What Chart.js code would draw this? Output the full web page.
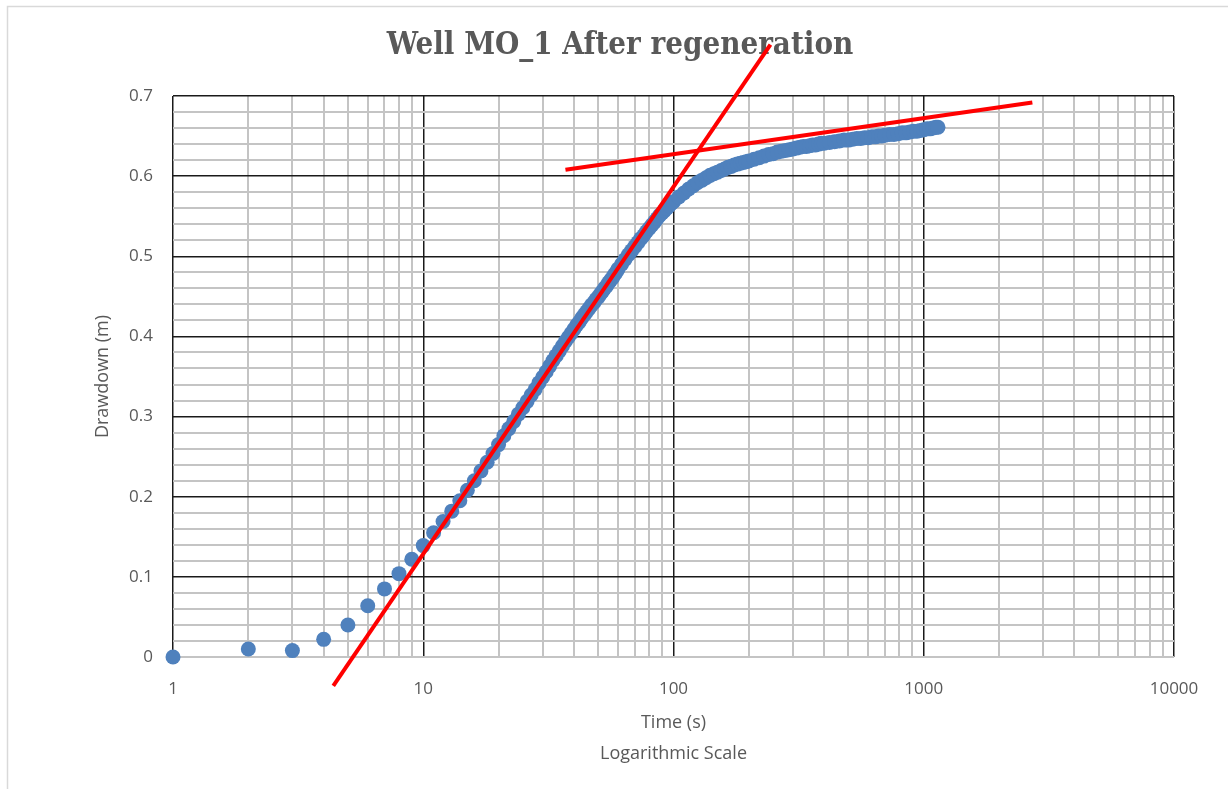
<!DOCTYPE html>
<html>
<head>
<meta charset="utf-8">
<script src="https://cdn.jsdelivr.net/npm/chart.js@4/dist/chart.umd.min.js"></script>
<style>
  html, body { margin: 0; padding: 0; background: #fff; }
  #wrap { width: 1228px; height: 789px; }
</style>
</head>
<body>
<div id="wrap"><canvas id="chart" width="1228" height="789"></canvas></div>
<script>
// drawdown readings (time in seconds, drawdown in metres)
const timeS = [
  1, 2, 3, 4, 5, 6, 7, 8, 9, 10, 11, 12, 13, 14, 15, 16, 17, 18, 19, 20,
  21, 22, 23, 24, 25, 26, 27, 28, 29, 30, 31, 32, 33, 34, 35, 36, 37, 38, 39, 40,
  41, 42, 43, 44, 45, 46, 47, 48, 49, 50, 51, 52, 53, 54, 55, 56, 57, 58, 59, 60,
  62, 64, 66, 68, 70, 72, 74, 76, 78, 80, 82, 84, 86, 88, 90, 92, 94, 96, 98, 100,
  105, 110, 115, 120, 125, 130, 135, 140, 145, 150, 155, 160, 165, 170, 175, 180, 185, 190, 195, 200,
  210, 220, 230, 240, 250, 260, 270, 280, 290, 300, 310, 320, 330, 340, 350, 360, 370, 380, 390, 400,
  420, 440, 460, 480, 500, 520, 540, 560, 580, 600, 620, 640, 660, 680, 700,
  730, 760, 790, 820, 850, 880, 910, 940, 970, 1000, 1030, 1060, 1090, 1120, 1140
];
const drawdownM = [
  0, 0.010, 0.008, 0.022, 0.040, 0.064, 0.085, 0.104, 0.122, 0.139, 0.155, 0.169, 0.182, 0.195, 0.208, 0.220, 0.232, 0.243, 0.254, 0.265,
  0.276, 0.285, 0.294, 0.303, 0.311, 0.319, 0.327, 0.334, 0.342, 0.349, 0.356, 0.363, 0.370, 0.376, 0.382, 0.388, 0.394, 0.399, 0.404, 0.409,
  0.414, 0.418, 0.423, 0.427, 0.431, 0.435, 0.439, 0.442, 0.446, 0.449, 0.453, 0.456, 0.460, 0.463, 0.467, 0.470, 0.473, 0.477, 0.480, 0.484,
  0.490, 0.496, 0.502, 0.507, 0.512, 0.517, 0.522, 0.526, 0.531, 0.535, 0.539, 0.543, 0.547, 0.551, 0.554, 0.557, 0.560, 0.563, 0.566, 0.568,
  0.574, 0.579, 0.584, 0.588, 0.592, 0.595, 0.598, 0.601, 0.603, 0.605, 0.607, 0.609, 0.611, 0.612, 0.614, 0.615, 0.616, 0.617, 0.618, 0.619,
  0.621, 0.623, 0.625, 0.627, 0.628, 0.630, 0.631, 0.632, 0.633, 0.634, 0.635, 0.636, 0.637, 0.637, 0.638, 0.639, 0.639, 0.640, 0.641, 0.641,
  0.642, 0.643, 0.644, 0.645, 0.645, 0.646, 0.647, 0.647, 0.648, 0.648, 0.649, 0.649, 0.650, 0.650, 0.651,
  0.652, 0.652, 0.653, 0.654, 0.654, 0.655, 0.656, 0.656, 0.657, 0.658, 0.659, 0.659, 0.660, 0.661, 0.661
];

// hand-drawn straight-line fits (endpoints)
const earlyFitT = [4.37, 244];
const earlyFitS = [-0.036, 0.764];
const lateFitT = [37, 2716];
const lateFitS = [0.608, 0.692];

// axis ticks
const decadeTicks = [1, 10, 100, 1000, 10000];
const minorSteps = [2, 3, 4, 5, 6, 7, 8, 9];
const yMajorTicks = [0, 0.1, 0.2, 0.3, 0.4, 0.5, 0.6, 0.7];

const pts = (xs, ys) => xs.map((x, i) => ({ x: x, y: ys[i] }));

const grey = '#595959';
const tickFont = { family: "'Open Sans', 'Noto Sans', sans-serif", size: 17 };

const logTicks = [];
decadeTicks.forEach(d => {
  logTicks.push(d);
  if (d < 10000) minorSteps.forEach(m => logTicks.push(d * m));
});
const yTicks = [];
for (let i = 0; i <= 35; i++) yTicks.push(Math.round(i * 2) / 100);

const isYMajor = v => yMajorTicks.some(m => Math.abs(m - v) < 1e-6);

const frame = {
  id: 'frame',
  beforeDraw(chart) {
    const c = chart.ctx;
    c.save();
    c.fillStyle = '#fff';
    c.fillRect(0, 0, chart.width, chart.height);
    c.strokeStyle = '#d9d9d9';
    c.lineWidth = 1.5;
    c.beginPath();
    c.moveTo(7.5, chart.height + 2);
    c.lineTo(7.5, 6.5);
    c.lineTo(chart.width + 2, 6.5);
    c.stroke();
    c.restore();
  }
};

new Chart(document.getElementById('chart'), {
  type: 'scatter',
  data: {
    datasets: [
      {
        label: 'early fit',
        data: pts(earlyFitT, earlyFitS),
        showLine: true,
        borderColor: '#ff0000',
        borderWidth: 4,
        pointRadius: 0,
        clip: false,
        order: 0
      },
      {
        label: 'late fit',
        data: pts(lateFitT, lateFitS),
        showLine: true,
        borderColor: '#ff0000',
        borderWidth: 4,
        pointRadius: 0,
        clip: false,
        order: 1
      },
      {
        label: 'Drawdown',
        data: pts(timeS, drawdownM),
        backgroundColor: '#4f81bd',
        borderColor: '#4f81bd',
        pointRadius: 7.5,
        pointBorderWidth: 0,
        clip: false,
        order: 2
      }
    ]
  },
  options: {
    responsive: false,
    animation: false,
    layout: { padding: { left: 66, right: 54, top: 0, bottom: 0 } },
    plugins: {
      legend: { display: false },
      tooltip: { enabled: false },
      title: {
        display: true,
        text: 'Well MO_1 After regeneration',
        color: grey,
        font: { family: "'DejaVu Serif Condensed', 'DejaVu Serif', serif", size: 31, weight: 'bold', lineHeight: 1.2 },
        padding: { top: 27, bottom: 31.8 }
      }
    },
    scales: {
      x: {
        type: 'logarithmic',
        min: 1,
        max: 10000,
        afterBuildTicks: s => { s.ticks = logTicks.map(v => ({ value: v })); },
        afterFit: s => { s.height = 132; },
        border: { display: false },
        grid: {
          drawTicks: false,
          color: ctx => decadeTicks.includes(ctx.tick.value) ? '#1a1a1a' : '#c4c4c4',
          lineWidth: ctx => decadeTicks.includes(ctx.tick.value) ? 1.5 : 2
        },
        ticks: {
          autoSkip: false,
          maxRotation: 0,
          padding: 22,
          color: grey,
          font: tickFont,
          callback: v => decadeTicks.includes(v) ? String(v) : ''
        },
        title: {
          display: true,
          text: ['Time (s)', 'Logarithmic Scale'],
          color: grey,
          font: { family: "'Open Sans', 'Noto Sans', sans-serif", size: 18, lineHeight: 1.72 },
          padding: { top: 0, bottom: 20 }
        }
      },
      y: {
        min: 0,
        max: 0.7,
        afterBuildTicks: s => { s.ticks = yTicks.map(v => ({ value: v })); },
        afterFit: s => { s.width = 107; },
        border: { display: false },
        grid: {
          drawTicks: false,
          color: ctx => (isYMajor(ctx.tick.value) && ctx.tick.value > 0) ? '#1a1a1a' : '#c4c4c4',
          lineWidth: ctx => (isYMajor(ctx.tick.value) && ctx.tick.value > 0) ? 1.5 : 2
        },
        ticks: {
          autoSkip: false,
          padding: 20,
          color: grey,
          font: tickFont,
          callback: v => isYMajor(v) ? String(Math.round(v * 10) / 10) : ''
        },
        title: {
          display: true,
          text: 'Drawdown (m)',
          color: grey,
          font: { family: "'Open Sans', 'Noto Sans', sans-serif", size: 18 },
          padding: { top: 26, bottom: 0 }
        }
      }
    }
  },
  plugins: [frame]
});
</script>
</body>
</html>
